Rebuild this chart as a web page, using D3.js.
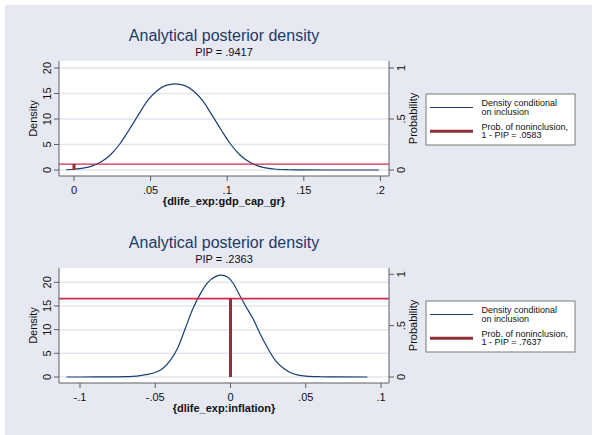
<!DOCTYPE html>
<html><head><meta charset="utf-8">
<script src="https://cdn.jsdelivr.net/npm/d3@7"></script>
<style>body{margin:0;background:#fff;} svg{display:block;font-family:"Liberation Sans",Arial,sans-serif;}</style>
</head><body><svg id="c" width="594" height="435"></svg>
<script>
// ---- data ----
const topX = [-0.005, 0, 0.006, 0.012, 0.018, 0.024, 0.030, 0.036, 0.042, 0.048, 0.054, 0.060, 0.066, 0.072, 0.078, 0.084, 0.090, 0.096, 0.102, 0.108, 0.114, 0.120, 0.126, 0.132, 0.140, 0.150, 0.165, 0.180, 0.199];
const topDensity = [0.05, 0.15, 0.37, 0.82, 1.65, 3.05, 5.15, 7.9, 10.8, 13.6, 15.5, 16.6, 16.9, 16.6, 15.5, 13.6, 10.8, 7.9, 5.15, 3.05, 1.65, 0.82, 0.37, 0.15, 0.05, 0.01, 0, 0, 0];
const bottomX = [-0.109, -0.09, -0.08, -0.07, -0.065, -0.06, -0.055, -0.05, -0.045, -0.04, -0.035, -0.03, -0.025, -0.02, -0.015, -0.01, -0.006, -0.002, 0.002, 0.006, 0.010, 0.015, 0.020, 0.025, 0.030, 0.035, 0.040, 0.045, 0.050, 0.060, 0.070, 0.091];
const bottomDensity = [0, 0.01, 0.03, 0.08, 0.15, 0.3, 0.55, 0.95, 1.8, 3.5, 6.2, 10.3, 14.4, 17.6, 20.0, 21.2, 21.5, 21.1, 19.7, 17.3, 15.0, 12.3, 8.9, 5.9, 3.4, 1.9, 0.9, 0.4, 0.18, 0.05, 0.01, 0];
const pipValues = [0.9417, 0.2363];
const variableLabels = ["{dlife_exp:gdp_cap_gr}", "{dlife_exp:inflation}"];
const topXTicks = [0, 0.05, 0.1, 0.15, 0.2];
const bottomXTicks = [-0.1, -0.05, 0, 0.05, 0.1];
const densityTicks = [0, 5, 10, 15, 20];
const probTicks = [0, 0.5, 1];
const titleText = "Analytical posterior density";
const densityLabel = "Density";
const probLabel = "Probability";
const legendDensity = ["Density conditional", "on inclusion"];
const legendProb = "Prob. of noninclusion,";

// ---- layout ----
const svg = d3.select("#c");
svg.append("rect").attr("x", 5).attr("y", 5).attr("width", 587).attr("height", 430).attr("fill", "#e6e9f2");

const stataFmt = v => {
  if (v === 0) return "0";
  let s = String(+v.toFixed(4));
  return s.replace(/^(-?)0\./, "$1.");
};

const panels = [
  {x: topX, d: topDensity, pip: pipValues[0], label: variableLabels[0], ticks: topXTicks,
   xDom: [0, 0.2], xRng: [74, 380.4], dRng: [170, 68], pRng: [170, 68], oy: 0, hw: 1.3},
  {x: bottomX, d: bottomDensity, pip: pipValues[1], label: variableLabels[1], ticks: bottomXTicks,
   xDom: [-0.1, 0.1], xRng: [80, 381], dRng: [170, 75.3], pRng: [170, 67.3], oy: 207, hw: 1.8}
];

const L = 59, R = 389, T = 61, B = 176;

panels.forEach(p => {
  const g = svg.append("g").attr("transform", `translate(0,${p.oy})`);
  const x = d3.scaleLinear().domain(p.xDom).range(p.xRng);
  const yD = d3.scaleLinear().domain([0, 20]).range(p.dRng);
  const yP = d3.scaleLinear().domain([0, 1]).range(p.pRng);

  // titles
  g.append("text").attr("x", (L + R) / 2).attr("y", 41).attr("text-anchor", "middle")
    .attr("font-size", 16).attr("fill", "#1e3a66").text(titleText);
  g.append("text").attr("x", (L + R) / 2).attr("y", 56).attr("text-anchor", "middle")
    .attr("font-size", 11).attr("fill", "#111").text("PIP = " + stataFmt(p.pip));

  // plot region
  g.append("rect").attr("x", L).attr("y", T).attr("width", R - L).attr("height", B - T).attr("fill", "#fff");

  // gridlines
  g.selectAll(".grid").data(densityTicks).join("line")
    .attr("x1", L).attr("x2", R).attr("y1", d => yD(d)).attr("y2", d => yD(d))
    .attr("stroke", "#e3e6ef").attr("stroke-width", 1.5);

  // density curve
  const pts = p.x.map((v, i) => [v, p.d[i]]);
  g.append("path").datum(pts)
    .attr("d", d3.line().x(d => x(d[0])).y(d => yD(d[1])).curve(d3.curveMonotoneX))
    .attr("fill", "none").attr("stroke", "#1a3f73").attr("stroke-width", 1.2);

  const q = 1 - p.pip;
  // horizontal prob line
  g.append("line").attr("x1", L).attr("x2", R).attr("y1", yP(q)).attr("y2", yP(q))
    .attr("stroke", "#d2284f").attr("stroke-width", p.hw);
  // spike at zero
  g.append("line").attr("x1", x(0)).attr("x2", x(0)).attr("y1", yP(0)).attr("y2", yP(q))
    .attr("stroke", "#923038").attr("stroke-width", 3);

  // axes lines
  const axc = "#5f5f5f";
  g.append("line").attr("x1", L).attr("x2", L).attr("y1", T).attr("y2", B).attr("stroke", axc);
  g.append("line").attr("x1", R).attr("x2", R).attr("y1", T).attr("y2", B).attr("stroke", axc);
  g.append("line").attr("x1", L).attr("x2", R).attr("y1", B).attr("y2", B).attr("stroke", axc);

  // left ticks
  densityTicks.forEach(t => {
    g.append("line").attr("x1", L - 5).attr("x2", L).attr("y1", yD(t)).attr("y2", yD(t)).attr("stroke", axc);
    g.append("text").attr("transform", `translate(47,${yD(t)}) rotate(-90)`).attr("dy", "0.36em")
      .attr("text-anchor", "middle").attr("font-size", 11).attr("fill", "#111").text(stataFmt(t));
  });
  // right ticks
  probTicks.forEach(t => {
    g.append("line").attr("x1", R).attr("x2", R + 5).attr("y1", yP(t)).attr("y2", yP(t)).attr("stroke", axc);
    g.append("text").attr("transform", `translate(401,${yP(t)}) rotate(-90)`).attr("dy", "0.36em")
      .attr("text-anchor", "middle").attr("font-size", 11).attr("fill", "#111").text(stataFmt(t));
  });
  // x ticks
  p.ticks.forEach(t => {
    g.append("line").attr("x1", x(t)).attr("x2", x(t)).attr("y1", B).attr("y2", B + 5).attr("stroke", axc);
    g.append("text").attr("x", x(t)).attr("y", 194).attr("text-anchor", "middle")
      .attr("font-size", 11).attr("fill", "#111").text(stataFmt(t));
  });

  // axis titles
  g.append("text").attr("transform", `translate(33,${(T + B) / 2}) rotate(-90)`).attr("dy", "0.36em")
    .attr("text-anchor", "middle").attr("font-size", 11).attr("fill", "#111").text(densityLabel);
  g.append("text").attr("transform", `translate(413,${(T + B) / 2}) rotate(-90)`).attr("dy", "0.36em")
    .attr("text-anchor", "middle").attr("font-size", 11).attr("fill", "#111").text(probLabel);
  g.append("text").attr("x", (L + R) / 2).attr("y", 205).attr("text-anchor", "middle")
    .attr("font-size", 11).attr("font-weight", "bold").attr("fill", "#111").text(p.label);

  // legend
  const lg = g.append("g").attr("transform", "translate(426,94)");
  lg.append("rect").attr("width", 149).attr("height", 51).attr("fill", "#fff").attr("stroke", "#7a7a7a");
  lg.append("line").attr("x1", 4).attr("x2", 47).attr("y1", 13.5).attr("y2", 13.5).attr("stroke", "#1a3f73").attr("stroke-width", 1.2);
  lg.append("line").attr("x1", 4).attr("x2", 47).attr("y1", 37.3).attr("y2", 37.3).attr("stroke", "#923038").attr("stroke-width", 3);
  const lt = [[legendDensity[0], 11.5], [legendDensity[1], 20.5], [legendProb, 35.5], ["1 - PIP = " + stataFmt(q), 44.3]];
  lt.forEach(([s, yy]) => lg.append("text").attr("x", 55.5).attr("y", yy).attr("font-size", 9).attr("fill", "#111").text(s));
});
</script></body></html>
